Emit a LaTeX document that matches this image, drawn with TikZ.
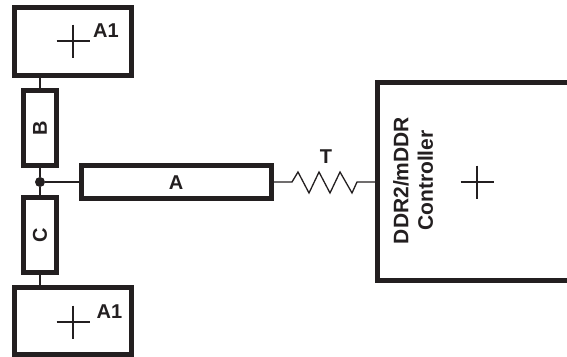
\documentclass[tikz,border=0pt]{standalone}
\usepackage{fontspec}
\setmainfont{Liberation Sans}
\usetikzlibrary{calc}
\definecolor{ink}{HTML}{231F20}
\tikzset{
  thickbox/.style={draw=ink,line width=5pt,fill=white,inner sep=0pt,outer sep=0pt},
  wire/.style={draw=ink,line width=1.3pt},
  lab/.style={text=ink,font=\fontsize{20}{22}\selectfont\bfseries,inner sep=0pt},
  ctrl/.style={text=ink,font=\fontsize{21}{24.5}\selectfont\bfseries,inner sep=0pt,align=center,rotate=90},
}
\newcommand{\crossmark}[1]{\draw[wire] ($(#1)+(-16.5,0)$) -- ($(#1)+(16.5,0)$) ($(#1)+(0,-16.5)$) -- ($(#1)+(0,16.5)$);}
\begin{document}
\begin{tikzpicture}[x=1pt,y=-1pt]
\useasboundingbox (0,0) rectangle (567,356);
\node[thickbox,minimum width=117pt,minimum height=68pt] (top) at (73,41) {};
\node[thickbox,minimum width=33pt,minimum height=75pt] (B) at (40,128) {};
\node[thickbox,minimum width=190pt,minimum height=33pt] (A) at (176.5,182) {};
\node[thickbox,minimum width=33pt,minimum height=75pt] (C) at (40,235) {};
\begin{scope}
\clip (0,0) rectangle (567,356);
\node[thickbox,minimum width=117pt,minimum height=67pt] (bot) at (73,321) {};
\draw[ink,line width=5pt] (600,82.5) coordinate (c1) -- (377.5,82.5) coordinate (ctl) -- (377.5,280.5) coordinate (cbl) -- (600,280.5);
\end{scope}
\coordinate (topc) at (73,41);
\coordinate (botc) at (73,322);
\coordinate (ctrlc) at (477,182);
\crossmark{topc}
\crossmark{botc}
\crossmark{ctrlc}
\node[circle,fill=ink,inner sep=0pt,minimum size=10pt] (J) at (40,182) {};
\draw[wire] (B.north) -- (B.north |- top.south);
\draw[wire] (B.south) -- (J);
\draw[wire] (J) -- (C.north);
\draw[wire] (C.south) -- (C.south |- bot.north);
\draw[wire] (J) -- (A.west);
\coordinate (ctlin) at (375,182);
\draw[wire,line join=miter] (A.east) -- (292,182) -- (298,172) -- (309,193) -- (319,172) -- (330,193) -- (340,172) -- (352,193) -- (357,182) -- (ctlin);
\node[lab] (a1t) at (106,31) {A1};
\node[lab] (a1b) at (109.5,312) {A1};
\node[lab,rotate=90] (tb) at (40,128) {B};
\node[lab] (ta) at (176,183) {A};
\node[lab,rotate=90] (tc) at (40,235) {C};
\node[lab] (tt) at (326,157) {T};
\node[ctrl] (tctrl) at (413,180.5) {DDR2/mDDR\\Controller};
\end{tikzpicture}
\end{document}
